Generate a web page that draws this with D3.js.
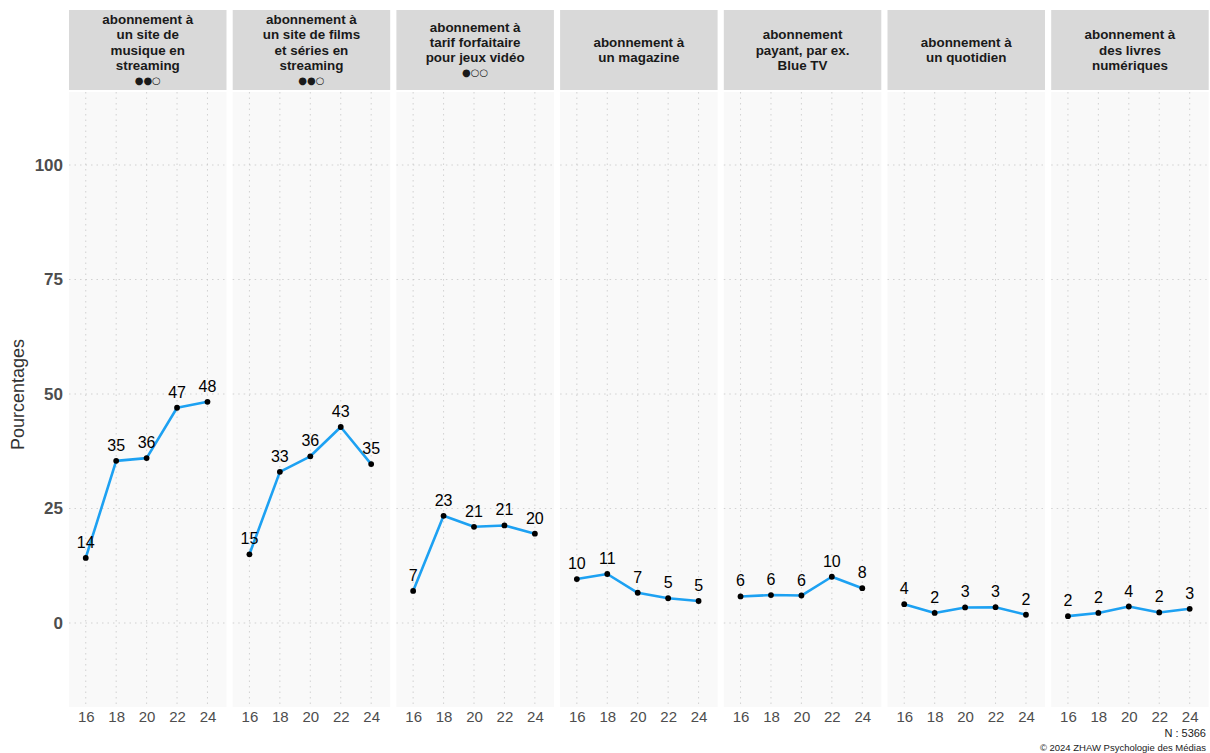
<!DOCTYPE html>
<html><head><meta charset="utf-8">
<script src="https://cdn.jsdelivr.net/npm/d3@7/dist/d3.min.js"></script>
<style>body{margin:0;background:#fff;}svg{display:block;font-family:"Liberation Sans",Arial,sans-serif;}</style>
</head><body><svg id="c" width="1210" height="753"></svg>
<script>
const years = [16, 18, 20, 22, 24];
const categories = [
  "abonnement à\nun site de\nmusique en\nstreaming",
  "abonnement à\nun site de films\net séries en\nstreaming",
  "abonnement à\ntarif forfaitaire\npour jeux vidéo",
  "abonnement à\nun magazine",
  "abonnement\npayant, par ex.\nBlue TV",
  "abonnement à\nun quotidien",
  "abonnement à\ndes livres\nnumériques"
];
const importance = ["●●○", "●●○", "●○○", "", "", "", ""];
const musique   = [14.2, 35.4, 36.0, 47.0, 48.3];
const films     = [15.0, 33.0, 36.4, 42.8, 34.7];
const jeux      = [7.0, 23.4, 21.0, 21.3, 19.5];
const magazine  = [9.6, 10.7, 6.6, 5.4, 4.8];
const bluetv    = [5.8, 6.1, 6.0, 10.1, 7.6];
const quotidien = [4.1, 2.2, 3.4, 3.45, 1.8];
const livres    = [1.5, 2.2, 3.6, 2.3, 3.1];
const seriesValues = [musique, films, jeux, magazine, bluetv, quotidien, livres];
const yTicks = [0, 25, 50, 75, 100];
const sampleN = "N : 5366";
const copyright = "© 2024 ZHAW Psychologie des Médias";

const svg = d3.select("#c");
const panelTop = 92, panelBottom = 707;
const headTop = 10, headBottom = 90;
const firstLeft = 69, panelW = 157.5, gap = 6.2;

const y = d3.scaleLinear().domain([0, 100]).range([623, 165]);

// y axis labels
const yAxisG = svg.append("g").attr("transform", `translate(${firstLeft},0)`);
const yAxis = d3.axisLeft(y).tickValues(yTicks).tickSize(0).tickPadding(6);
yAxisG.call(yAxis);
yAxisG.select(".domain").remove();
yAxisG.attr("font-family", null).attr("font-size", null);
yAxisG.selectAll("text")
  .style("font-size", "17px").style("font-weight", "bold").style("fill", "#4d4d4d")
  .style("font-family", '"Liberation Sans",Arial,sans-serif');

svg.append("text").attr("transform", `translate(24,${(panelTop + panelBottom) / 2 - 5}) rotate(-90)`)
  .attr("text-anchor", "middle").attr("font-size", 18).attr("fill", "#333").text("Pourcentages");

categories.forEach((cat, i) => {
  const left = firstLeft + i * (panelW + gap);
  const x = d3.scaleLinear().domain([14.9, 25.25]).range([left, left + panelW]);
  const g = svg.append("g");
  // header
  g.append("rect").attr("x", left).attr("y", headTop).attr("width", panelW).attr("height", headBottom - headTop).attr("fill", "#d9d9d9");
  const lines = cat.split("\n");
  const allLines = importance[i] ? lines.concat([importance[i]]) : lines;
  const lh = 15.3;
  const cy = (headTop + headBottom) / 2;
  const startY = cy - (allLines.length - 1) * lh / 2;
  allLines.forEach((t, k) => {
    const isDots = importance[i] && k === allLines.length - 1;
    g.append("text").attr("x", left + panelW / 2).attr("y", startY + k * lh)
      .attr("dy", "0.35em").attr("text-anchor", "middle")
      .attr("font-size", isDots ? 10 : 13.4).attr("font-weight", isDots ? "normal" : "bold")
      .attr("fill", "#1a1a1a").attr("font-family", isDots ? '"DejaVu Sans",sans-serif' : '"Liberation Sans",Arial,sans-serif')
      .text(t);
  });
  // panel background
  g.append("rect").attr("x", left).attr("y", panelTop).attr("width", panelW).attr("height", panelBottom - panelTop).attr("fill", "#f9f9f9");
  // grid
  g.selectAll(".gx").data(years).join("line").attr("x1", d => x(d)).attr("x2", d => x(d))
    .attr("y1", panelTop).attr("y2", panelBottom).attr("stroke", "#c8c8c8").attr("stroke-width", 0.8).attr("stroke-dasharray", "1.5,4");
  g.selectAll(".gy").data(yTicks).join("line").attr("x1", left).attr("x2", left + panelW)
    .attr("y1", d => y(d)).attr("y2", d => y(d)).attr("stroke", "#c8c8c8").attr("stroke-width", 0.8).attr("stroke-dasharray", "1.5,4");
  // x axis
  const xa = g.append("g").attr("transform", `translate(0,${panelBottom})`)
    .call(d3.axisBottom(x).tickValues(years).tickSize(0).tickPadding(4));
  xa.select(".domain").remove();
  xa.selectAll("text").attr("font-size", 15).attr("fill", "#4d4d4d").attr("font-family", '"Liberation Sans",Arial,sans-serif');
  // line
  const vals = seriesValues[i];
  const pts = years.map((yr, k) => ({ yr, v: vals[k] }));
  g.append("path").datum(pts).attr("fill", "none").attr("stroke", "#1da1f2").attr("stroke-width", 2.6)
    .attr("stroke-linejoin", "round")
    .attr("d", d3.line().x(d => x(d.yr)).y(d => y(d.v)));
  g.selectAll(".pt").data(pts).join("circle").attr("cx", d => x(d.yr)).attr("cy", d => y(d.v)).attr("r", 2.9).attr("fill", "#000");
  g.selectAll(".lbl").data(pts).join("text").attr("x", d => x(d.yr)).attr("y", d => y(d.v) - 10)
    .attr("text-anchor", "middle").attr("font-size", 16).attr("fill", "#000")
    .text(d => Math.round(d.v));
});

svg.append("text").attr("x", 1206).attr("y", 737).attr("text-anchor", "end").attr("font-size", 11).attr("fill", "#1a1a1a").text(sampleN);
svg.append("text").attr("x", 1206).attr("y", 751).attr("text-anchor", "end").attr("font-size", 9.5).attr("fill", "#1a1a1a").text(copyright);
</script></body></html>
